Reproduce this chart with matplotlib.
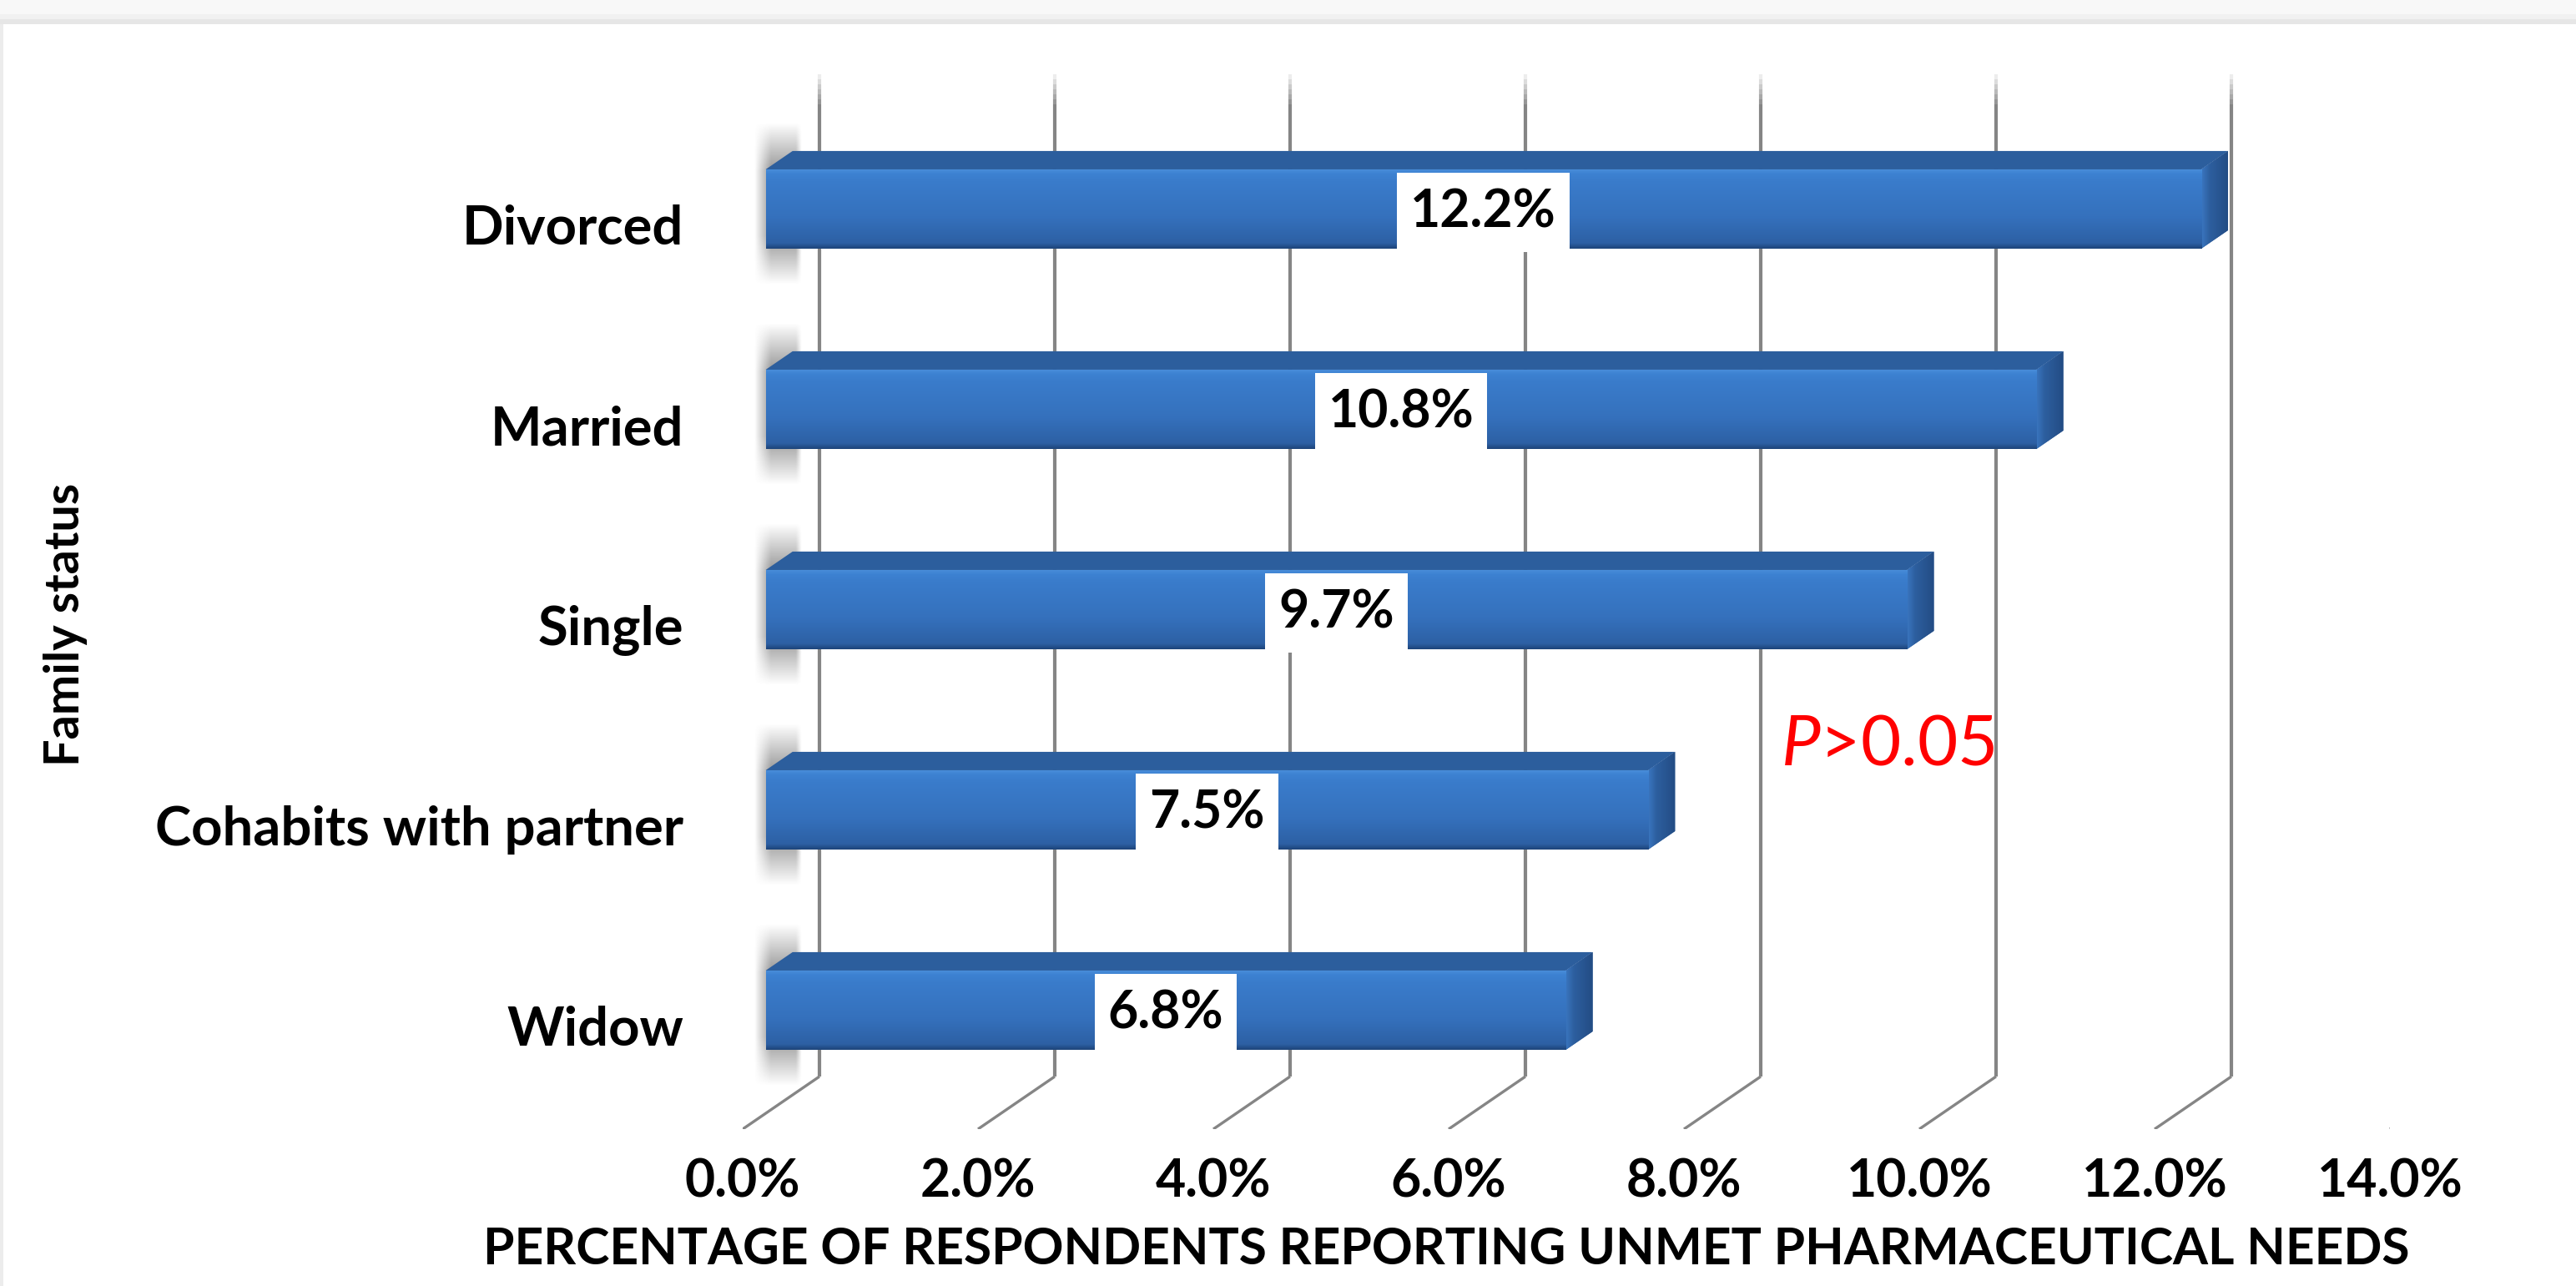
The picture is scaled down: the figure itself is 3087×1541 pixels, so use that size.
import numpy as np
import matplotlib.pyplot as plt
from matplotlib.patches import Polygon, Rectangle
from matplotlib.colors import LinearSegmentedColormap

# values shown on the chart (bottom row first)
categories = ['Widow', 'Cohabits with partner', 'Single', 'Married', 'Divorced']
values = [6.8, 7.5, 9.7, 10.8, 12.2]
x_ticks = [0, 2, 4, 6, 8, 10, 12, 14]
tick_labels = ['0.0%', '2.0%', '4.0%', '6.0%', '8.0%', '10.0%', '12.0%', '14.0%']
x_title = 'PERCENTAGE OF RESPONDENTS REPORTING UNMET PHARMACEUTICAL NEEDS'
y_title = 'Family status'
p_note = r'$\mathit{P}$>0.05'
p_note_pos = (8.82, 1.40)

plt.rcParams['font.family'] = ['Lato', 'DejaVu Sans']
plt.rcParams['mathtext.fontset'] = 'custom'
plt.rcParams['mathtext.it'] = 'Lato:italic'
plt.rcParams['mathtext.rm'] = 'Lato'

W, H, DPI = 3087, 1541, 200
fig = plt.figure(figsize=(W / DPI, H / DPI), dpi=DPI)
fig.patch.set_facecolor('white')

# layout of the front floor plane, in pixels
px_left, px_floor, px_top = 890, 1353, 60
px_per_pct, px_per_row = 141.0, 240.0
row0_px = 1229.4
x_max = 14

ax = fig.add_axes([px_left / W, (H - px_floor) / H,
                   x_max * px_per_pct / W, (px_floor - px_top) / H])
y_lo = -(px_floor - row0_px) / px_per_row
y_hi = (row0_px - px_top) / px_per_row

# oblique depth: full depth of the floor, in data units
DX = 92 / px_per_pct
DY = 63 / px_per_row
D_FRONT, D_BACK = 0.30, 0.65
HALF = 0.198

def proj(x, y, d):
    return x + d * DX, y + d * DY

# gridlines on the back wall plus floor diagonals
grid_top = (row0_px - 89) / px_per_row
fade_top = (row0_px - 125) / px_per_row
for t in x_ticks:
    fx, fy = proj(t, y_lo, 0)
    bx, by = proj(t, y_lo, 1)
    ax.plot([fx, bx], [fy, by], color='#858585', lw=1.2, zorder=1, solid_capstyle='butt')
    ax.plot([bx, bx], [by, fade_top], color='#858585', lw=1.5, zorder=1, solid_capstyle='butt')
    steps = np.linspace(fade_top, grid_top, 7)
    for k in range(6):
        ax.plot([bx, bx], [steps[k], steps[k + 1]], color='#858585', lw=1.5,
                alpha=1 - (k + 1) / 7, zorder=1, solid_capstyle='butt')

front_cmap = LinearSegmentedColormap.from_list('front', [
    (0.0, '#4b8fdb'), (0.06, '#3d82d2'), (0.15, '#3a7ccb'),
    (0.6, '#3571bd'), (0.93, '#2d60a4'), (1.0, '#1d4479')])
side_cmap = LinearSegmentedColormap.from_list('side', [
    (0.0, '#3a76c0'), (0.3, '#2d5f9f'), (1.0, '#234c84')])
vgrad = np.linspace(0, 1, 256).reshape(-1, 1)
hgrad = np.linspace(0, 1, 64).reshape(1, -1)

# soft grey shading behind the left end of each bar
su = np.linspace(0, 1, 80)
sw = np.linspace(0, 1, 160)
SU, SW = np.meshgrid(su, sw)
a_x = np.clip(SU / 0.35, 0, 1) * np.clip((1 - SU) / 0.12, 0, 1)
a_y = np.clip(SW / 0.3, 0, 1) * np.clip((1 - SW) / 0.3, 0, 1)
shade = np.zeros(SU.shape + (4,))
shade[..., :3] = 0.45
shade[..., 3] = 0.75 * a_x * a_y

renderer = fig.canvas.get_renderer()

for i, v in enumerate(values):
    x0, yb = proj(0, i - HALF, D_FRONT)
    x1, yt = proj(v, i + HALF, D_FRONT)
    bx0, byt = proj(0, i + HALF, D_BACK)
    bx1, byb = proj(v, i - HALF, D_BACK)

    ax.imshow(shade, extent=[x0 - 0.1, bx0 + 0.07, yb - 0.18, byt + 0.14],
              origin='lower', aspect='auto', interpolation='bilinear', zorder=2)

    top = Polygon([(x0, yt), (x1, yt), (bx1, byt), (bx0, byt)], closed=True,
                  facecolor='#2c5e9d', edgecolor='none', zorder=3)
    ax.add_patch(top)

    side = Polygon([(x1, yb), (x1, yt), (bx1, byt), (bx1, byb)], closed=True,
                   facecolor='#2a5a98', edgecolor='none', zorder=3)
    ax.add_patch(side)
    im = ax.imshow(hgrad, extent=[x1, bx1, byb - 0.1, byt], aspect='auto',
                   cmap=side_cmap, zorder=3)
    im.set_clip_path(side)

    face = Rectangle((x0, yb), x1 - x0, yt - yb, facecolor='none', edgecolor='none')
    ax.add_patch(face)
    im = ax.imshow(vgrad, extent=[x0, x1, yb, yt], aspect='auto',
                   cmap=front_cmap, interpolation='bilinear', zorder=4)
    im.set_clip_path(face)

    # value label on a white box in the middle of the front face
    cx = (x0 + x1) / 2
    shift = 4 / px_per_row
    txt = ax.text(cx, (yb + yt) / 2 - shift, f'{v:.1f}%', ha='center', va='center',
                  fontsize=22.5, fontweight='bold', color='black', zorder=6)
    ext = txt.get_window_extent(renderer)
    w = ext.width / px_per_pct + 2 * 16 / px_per_pct
    ax.add_patch(Rectangle((cx - w / 2, yb - shift), w, yt - yb,
                           facecolor='white', edgecolor='none', zorder=5))

ax.text(p_note_pos[0], p_note_pos[1], p_note, ha='left', va='center',
        fontsize=30, color='red', zorder=6)

ax.set_xlim(0, x_max)
ax.set_ylim(y_lo, y_hi)
ax.set_xticks(x_ticks)
ax.set_xticklabels(tick_labels, fontsize=22.5, fontweight='bold')
ax.set_yticks(range(len(categories)))
ax.set_yticklabels(categories, fontsize=23.5, fontweight='bold')
ax.tick_params(axis='x', length=0, pad=12.5)
ax.tick_params(axis='y', length=0, pad=25.6)
for s in ax.spines.values():
    s.set_visible(False)
ax.patch.set_alpha(0)

ax.set_xlabel(x_title, fontsize=21.8, fontweight='bold', va='center')
ax.xaxis.set_label_coords((1733 - px_left) / (x_max * px_per_pct),
                          -(1497 - px_floor) / (px_floor - px_top))
ax.set_ylabel(y_title, fontsize=20.8, fontweight='bold', va='center')
ax.yaxis.set_label_coords((79 - px_left) / (x_max * px_per_pct),
                          (px_floor - 748) / (px_floor - px_top))

# light grey band along the top edge and a thin border on the left
for y0, y1, c in [(0, 17, '#f8f8f8'), (17, 23, '#f1f1f1'), (23, 29, '#e6e6e6')]:
    fig.patches.append(Rectangle((0, 1 - y1 / H), 1, (y1 - y0) / H,
                                 transform=fig.transFigure, facecolor=c,
                                 edgecolor='none', zorder=0))
fig.patches.append(Rectangle((0, 0), 4 / W, 1 - 29 / H, transform=fig.transFigure,
                             facecolor='#ececec', edgecolor='none', zorder=0))

fig.savefig('out.png', dpi=DPI)
